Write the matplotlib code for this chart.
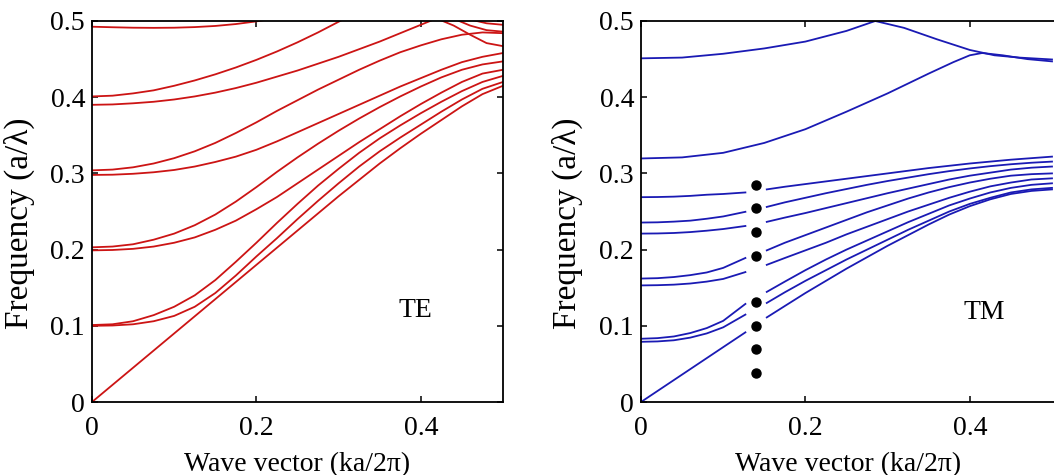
import numpy as np
import matplotlib
matplotlib.use('Agg')
import matplotlib.pyplot as plt

plt.rcParams['font.family'] = ['Liberation Serif', 'DejaVu Serif']
plt.rcParams['font.size'] = 20

nan = np.nan

# ---- TE bands (left panel) ----
x_te = [0, 0.025, 0.05, 0.075, 0.1, 0.125, 0.15, 0.175, 0.2, 0.225, 0.25,
        0.275, 0.3, 0.325, 0.35, 0.375, 0.4, 0.425, 0.45, 0.475, 0.5]
te_bands = [
    [0.000, 0.0225, 0.045, 0.0675, 0.090, 0.1125, 0.135, 0.1575, 0.180, 0.2025, 0.225,
     0.2475, 0.270, 0.2915, 0.313, 0.333, 0.352, 0.370, 0.388, 0.404, 0.415],
    [0.100, 0.1004, 0.102, 0.106, 0.113, 0.125, 0.143, 0.166, 0.191, 0.215, 0.240,
     0.264, 0.287, 0.309, 0.329, 0.347, 0.364, 0.381, 0.397, 0.411, 0.420],
    [0.101, 0.102, 0.106, 0.114, 0.125, 0.140, 0.160, 0.184, 0.209, 0.235, 0.260,
     0.284, 0.306, 0.327, 0.346, 0.363, 0.379, 0.394, 0.408, 0.420, 0.428],
    [0.199, 0.1995, 0.201, 0.204, 0.209, 0.216, 0.226, 0.238, 0.253, 0.269, 0.287,
     0.305, 0.323, 0.341, 0.358, 0.375, 0.391, 0.406, 0.420, 0.431, 0.436],
    [0.203, 0.204, 0.207, 0.213, 0.221, 0.232, 0.246, 0.263, 0.282, 0.302, 0.321,
     0.339, 0.356, 0.372, 0.387, 0.401, 0.414, 0.426, 0.436, 0.443, 0.447],
    [0.298, 0.2983, 0.2995, 0.3015, 0.3045, 0.309, 0.315, 0.322, 0.331, 0.342, 0.354,
     0.366, 0.378, 0.390, 0.402, 0.414, 0.425, 0.436, 0.446, 0.453, 0.458],
    [0.304, 0.305, 0.308, 0.313, 0.320, 0.329, 0.340, 0.353, 0.367, 0.382, 0.396,
     0.410, 0.423, 0.436, 0.448, 0.459, 0.468, 0.476, 0.482, 0.485, 0.484],
    [0.390, 0.3905, 0.392, 0.394, 0.397, 0.401, 0.406, 0.412, 0.419, 0.427, 0.435,
     0.444, 0.453, 0.463, 0.473, 0.484, 0.495, 0.506, 0.517, 0.528, 0.539],
    [0.401, 0.402, 0.405, 0.409, 0.415, 0.422, 0.430, 0.439, 0.449, 0.460, 0.472,
     0.485, 0.499, 0.513, 0.527, 0.541, 0.555, 0.569, 0.583, 0.597, 0.611],
    [0.4925, 0.4918, 0.4912, 0.4910, 0.4912, 0.492, 0.4935, 0.496, 0.4995, 0.504, 0.509,
     0.514, 0.519, 0.524, 0.529, 0.534, 0.539, 0.544, 0.549, 0.554, 0.559],
]
# short bands folding down near the zone edge
te_edge_x = [[0.42, 0.44, 0.46, 0.48, 0.5], [0.44, 0.46, 0.48, 0.5], [0.46, 0.48, 0.5]]
te_edge_y = [[0.503, 0.494, 0.482, 0.471, 0.467], [0.503, 0.494, 0.488, 0.486], [0.502, 0.497, 0.495]]

# ---- TM bands (right panel), NaN = break behind the dots ----
x_tm = [0, 0.02, 0.04, 0.06, 0.08, 0.1, 0.127, 0.14, 0.153, 0.175, 0.2, 0.225, 0.25,
        0.275, 0.3, 0.325, 0.35, 0.375, 0.4, 0.425, 0.45, 0.475, 0.5]
tm_bands = [
    [0.000, 0.0144, 0.0288, 0.0432, 0.0576, 0.072, 0.0914, nan, 0.111, 0.126, 0.143, 0.159,
     0.175, 0.190, 0.205, 0.219, 0.233, 0.246, 0.257, 0.266, 0.273, 0.277, 0.279],
    [0.079, 0.0795, 0.081, 0.0845, 0.090, 0.098, 0.1147, nan, 0.130, 0.144, 0.159, 0.173,
     0.187, 0.200, 0.213, 0.226, 0.238, 0.250, 0.260, 0.268, 0.275, 0.279, 0.281],
    [0.083, 0.0838, 0.086, 0.0905, 0.097, 0.1065, 0.1287, nan, 0.1445, 0.158, 0.173, 0.187,
     0.200, 0.212, 0.224, 0.236, 0.247, 0.258, 0.267, 0.275, 0.281, 0.285, 0.287],
    [0.153, 0.1533, 0.154, 0.1555, 0.158, 0.1615, 0.1705, nan, 0.180, 0.189, 0.199, 0.209,
     0.220, 0.230, 0.240, 0.250, 0.259, 0.268, 0.276, 0.283, 0.288, 0.292, 0.2935],
    [0.162, 0.1625, 0.164, 0.1665, 0.170, 0.176, 0.189, nan, 0.199, 0.209, 0.219, 0.229,
     0.239, 0.249, 0.258, 0.267, 0.275, 0.282, 0.288, 0.293, 0.297, 0.299, 0.300],
    [0.221, 0.2212, 0.2218, 0.223, 0.2248, 0.227, 0.231, nan, 0.2364, 0.242, 0.248, 0.2545,
     0.261, 0.2675, 0.274, 0.280, 0.286, 0.292, 0.297, 0.301, 0.305, 0.3075, 0.309],
    [0.2355, 0.2358, 0.2367, 0.238, 0.2405, 0.2435, 0.2496, nan, 0.256, 0.262, 0.268, 0.274,
     0.2795, 0.285, 0.290, 0.2945, 0.299, 0.303, 0.3065, 0.3095, 0.312, 0.314, 0.3155],
    [0.2688, 0.269, 0.2695, 0.2705, 0.272, 0.273, 0.275, nan, 0.279, 0.2825, 0.286, 0.2895,
     0.293, 0.2965, 0.300, 0.3035, 0.307, 0.310, 0.313, 0.3155, 0.318, 0.320, 0.322],
]
x_tm5 = [0, 0.05, 0.1, 0.15, 0.2, 0.25, 0.3, 0.35, 0.38, 0.4, 0.415, 0.44, 0.47, 0.5]
y_tm5 = [0.3196, 0.321, 0.327, 0.340, 0.358, 0.381, 0.405, 0.431, 0.446, 0.455, 0.458, 0.455, 0.450, 0.447]
x_tm6 = [0, 0.05, 0.1, 0.15, 0.2, 0.25, 0.285, 0.32, 0.36, 0.4, 0.43, 0.46, 0.5]
y_tm6 = [0.451, 0.452, 0.457, 0.464, 0.473, 0.487, 0.500, 0.491, 0.476, 0.462, 0.455, 0.452, 0.4495]

# dots marking the gap
dot_x = [0.14] * 8
dot_y = [0.285, 0.254, 0.223, 0.192, 0.131, 0.100, 0.069, 0.038]

xticks = [0, 0.2, 0.4]
xtick_labels = ['0', '0.2', '0.4']
yticks = [0, 0.1, 0.2, 0.3, 0.4, 0.5]
ytick_labels = ['0', '0.1', '0.2', '0.3', '0.4', '0.5']

red = '#cc1414'
blue = '#1a1ab4'

fig = plt.figure(figsize=(10.54, 4.75), dpi=100)
ax1 = fig.add_axes([92 / 1054, 73 / 475, 411 / 1054, 381 / 475])
# right panel runs past the image edge, as in the original crop
ax2 = fig.add_axes([641 / 1054, 73 / 475, 415 / 1054, 381 / 475])

for yb in te_bands:
    ax1.plot(x_te, yb, color=red, lw=1.3)
for xe, ye in zip(te_edge_x, te_edge_y):
    ax1.plot(xe, ye, color=red, lw=1.3)
ax1.text(0.393, 0.12, 'TE', ha='center', va='center')
ax1.set_xlim(0, 0.5)

for yb in tm_bands:
    ax2.plot(x_tm, yb, color=blue, lw=1.3)
ax2.plot(x_tm5, y_tm5, color=blue, lw=1.3)
ax2.plot(x_tm6, y_tm6, color=blue, lw=1.3)
ax2.plot(dot_x, dot_y, 'o', color='black', ms=6.5, ls='none')
ax2.text(0.417, 0.118, 'TM', ha='center', va='center')
ax2.set_xlim(0, 0.5 * 415 / 411)

for ax in (ax1, ax2):
    ax.set_ylim(0, 0.5)
    ax.set_xticks(xticks)
    ax.set_xticklabels(xtick_labels)
    ax.set_yticks(yticks)
    ax.set_yticklabels(ytick_labels)
    ax.tick_params(direction='in', top=True, right=True, length=4, width=1.1)
    ax.tick_params(axis='x', pad=10)
    ax.tick_params(axis='y', pad=5)
    for s in ax.spines.values():
        s.set_linewidth(1.3)
    ax.set_xlabel('Wave vector (ka/2π)', labelpad=8)
    ax.set_ylabel('Frequency (a/λ)', fontsize=24)
    ax.yaxis.set_label_coords(-0.139, 0.47)
ax2.tick_params(right=False)

fig.savefig('out.png', dpi=100)
